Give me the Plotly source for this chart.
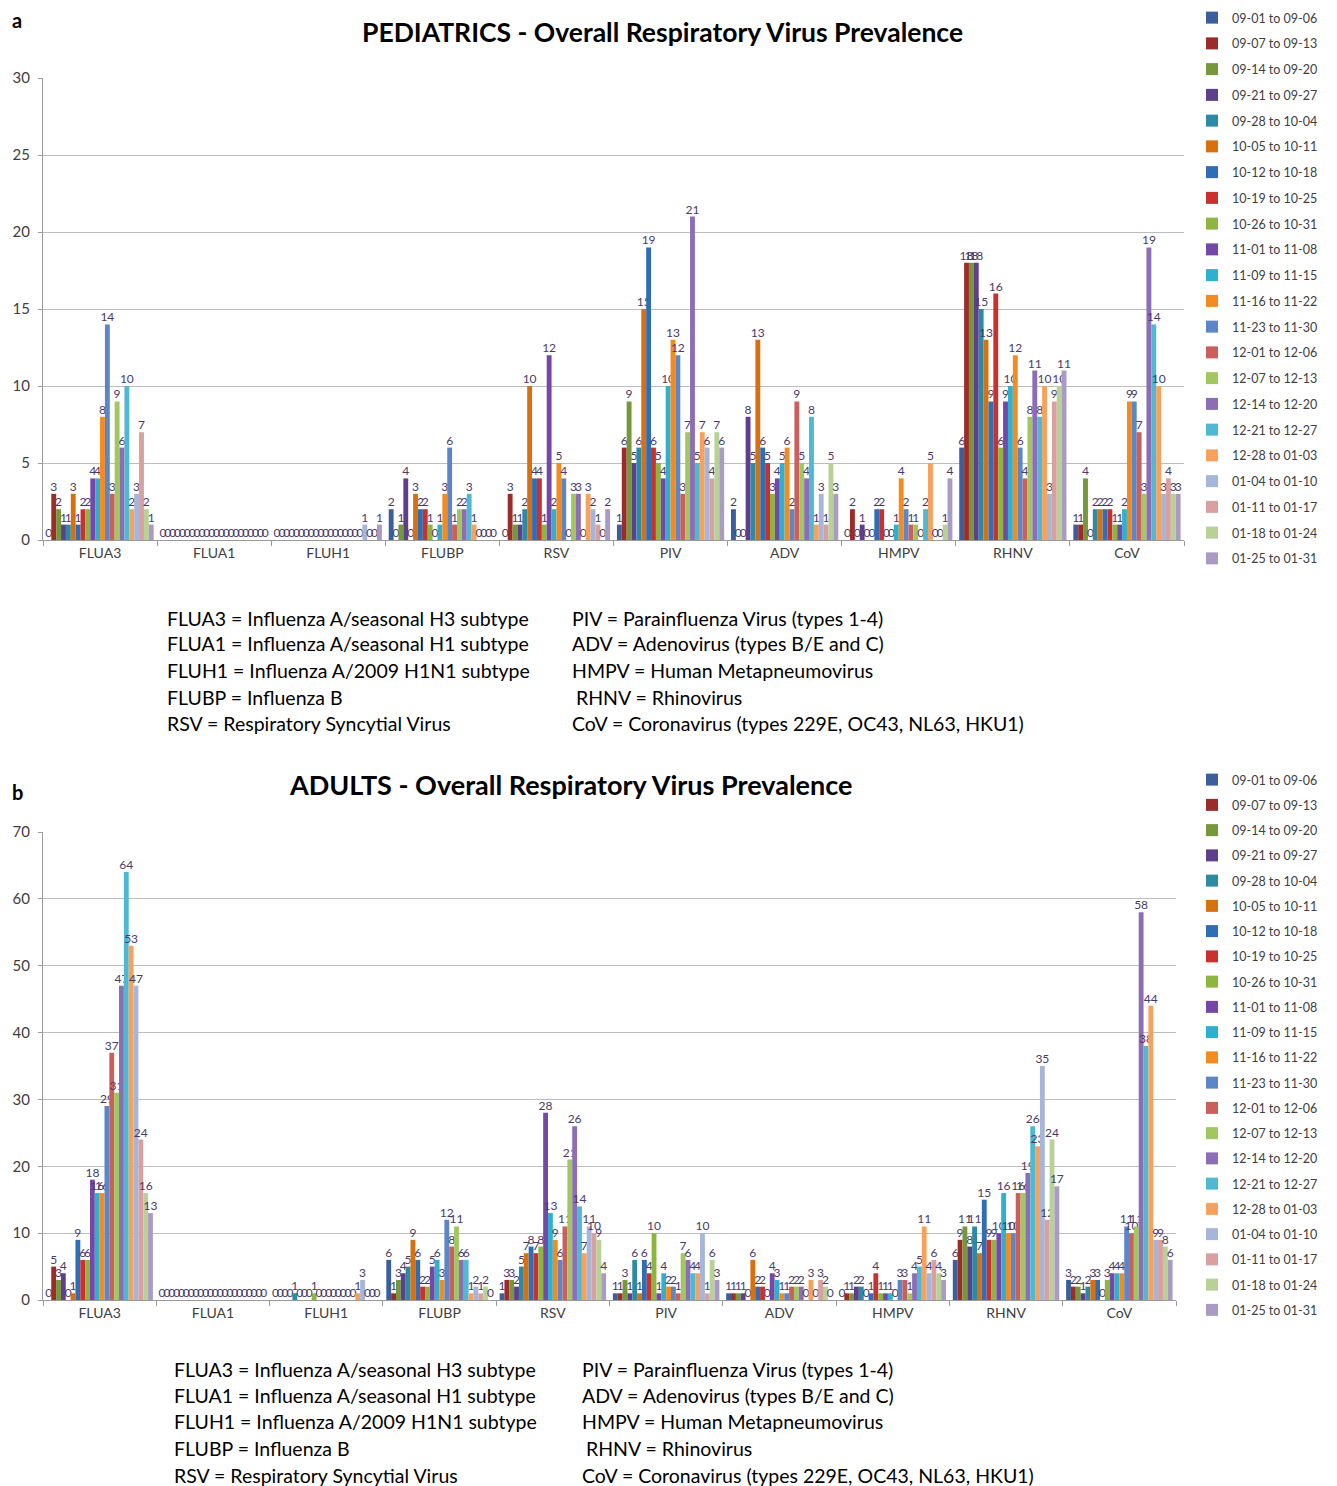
import plotly.graph_objects as go

# Figure fills the whole 1337x1486 page (body margin removed via post_script)
W, H = 1337, 1486

categories = ["FLUA3", "FLUA1", "FLUH1", "FLUBP", "RSV", "PIV", "ADV", "HMPV", "RHNV", "CoV"]

weeks = ["09-01 to 09-06", "09-07 to 09-13", "09-14 to 09-20", "09-21 to 09-27",
         "09-28 to 10-04", "10-05 to 10-11", "10-12 to 10-18", "10-19 to 10-25",
         "10-26 to 10-31", "11-01 to 11-08", "11-09 to 11-15", "11-16 to 11-22",
         "11-23 to 11-30", "12-01 to 12-06", "12-07 to 12-13", "12-14 to 12-20",
         "12-21 to 12-27", "12-28 to 01-03", "01-04 to 01-10", "01-11 to 01-17",
         "01-18 to 01-24", "01-25 to 01-31"]

colors = ["#3A5F9A", "#9B2C2A", "#76973A", "#5E3F8C", "#2C8AA5", "#D9700F",
          "#2F6DB5", "#C8312E", "#8DB640", "#7548A8", "#2FB0CF", "#F48B1F",
          "#5B87C8", "#C9605D", "#A3C760", "#8C6EB5", "#4FB8D3", "#F7A25C",
          "#A5B6DA", "#D9A0A0", "#B8D196", "#A99BC4"]

# ---- Pediatrics: values per category, one value per week (22) ----
ped_flua3 = [0, 3, 2, 1, 1, 3, 1, 2, 2, 4, 4, 8, 14, 3, 9, 6, 10, 2, 3, 7, 2, 1]
ped_flua1 = [0, 0, 0, 0, 0, 0, 0, 0, 0, 0, 0, 0, 0, 0, 0, 0, 0, 0, 0, 0, 0, 0]
ped_fluh1 = [0, 0, 0, 0, 0, 0, 0, 0, 0, 0, 0, 0, 0, 0, 0, 0, 0, 0, 1, 0, 0, 1]
ped_flubp = [2, 0, 1, 4, 0, 3, 2, 2, 1, 0, 1, 3, 6, 1, 2, 2, 3, 1, 0, 0, 0, 0]
ped_rsv = [0, 3, 1, 1, 2, 10, 4, 4, 1, 12, 2, 5, 4, 0, 3, 3, 0, 3, 2, 1, 0, 2]
ped_piv = [1, 6, 9, 5, 6, 15, 19, 6, 5, 4, 10, 13, 12, 3, 7, 21, 5, 7, 6, 4, 7, 6]
ped_adv = [2, 0, 0, 8, 5, 13, 6, 5, 3, 4, 5, 6, 2, 9, 5, 4, 8, 1, 3, 1, 5, 3]
ped_hmpv = [0, 2, 0, 1, 0, 0, 2, 2, 0, 0, 1, 4, 2, 1, 1, 0, 2, 5, 0, 0, 1, 4]
ped_rhnv = [6, 18, 18, 18, 15, 13, 9, 16, 6, 9, 10, 12, 6, 4, 8, 11, 8, 10, 3, 9, 10, 11]
ped_cov = [1, 1, 4, 0, 2, 2, 2, 2, 1, 1, 2, 9, 9, 7, 3, 19, 14, 10, 3, 4, 3, 3]

# ---- Adults ----
adu_flua3 = [0, 5, 3, 4, 0, 1, 9, 6, 6, 18, 16, 16, 29, 37, 31, 47, 64, 53, 47, 24, 16, 13]
adu_flua1 = [0, 0, 0, 0, 0, 0, 0, 0, 0, 0, 0, 0, 0, 0, 0, 0, 0, 0, 0, 0, 0, 0]
adu_fluh1 = [0, 0, 0, 0, 1, 0, 0, 0, 1, 0, 0, 0, 0, 0, 0, 0, 0, 1, 3, 0, 0, 0]
adu_flubp = [6, 1, 3, 4, 5, 9, 6, 2, 2, 5, 6, 3, 12, 8, 11, 6, 6, 1, 2, 1, 2, 0]
adu_rsv = [1, 3, 3, 2, 5, 7, 8, 7, 8, 28, 13, 9, 6, 11, 21, 26, 14, 7, 11, 10, 9, 4]
adu_piv = [1, 1, 3, 1, 6, 1, 6, 4, 10, 1, 4, 2, 2, 1, 7, 6, 4, 4, 10, 1, 6, 3]
adu_adv = [1, 1, 1, 1, 0, 6, 2, 2, 0, 4, 3, 1, 1, 2, 2, 2, 0, 3, 0, 3, 2, 0]
adu_hmpv = [0, 1, 1, 2, 2, 0, 1, 4, 1, 1, 1, 0, 3, 3, 1, 4, 5, 11, 4, 6, 4, 3]
adu_rhnv = [6, 9, 11, 8, 11, 7, 15, 9, 9, 10, 16, 10, 10, 16, 16, 19, 26, 23, 35, 12, 24, 17]
adu_cov = [3, 2, 2, 1, 2, 3, 3, 0, 3, 4, 4, 4, 11, 10, 11, 58, 38, 44, 9, 9, 8, 6]

ped_by_cat = [ped_flua3, ped_flua1, ped_fluh1, ped_flubp, ped_rsv,
              ped_piv, ped_adv, ped_hmpv, ped_rhnv, ped_cov]
adu_by_cat = [adu_flua3, adu_flua1, adu_fluh1, adu_flubp, adu_rsv,
              adu_piv, adu_adv, adu_hmpv, adu_rhnv, adu_cov]

key_left = ["FLUA3 = Influenza A/seasonal H3 subtype",
            "FLUA1 = Influenza A/seasonal H1 subtype",
            "FLUH1 = Influenza A/2009 H1N1 subtype",
            "FLUBP = Influenza B",
            "RSV = Respiratory Syncytial Virus"]
key_right = ["PIV = Parainfluenza Virus (types 1-4)",
             "ADV = Adenovirus (types B/E and C)",
             "HMPV = Human Metapneumovirus",
             "RHNV = Rhinovirus",
             "CoV = Coronavirus (types 229E, OC43, NL63, HKU1)"]

FONT = "Lato"
LABEL_COLOR = "#4A3A6A"


def px(x):
    """page x pixel -> paper fraction"""
    return x / W


def py(y):
    """page y pixel -> paper fraction"""
    return 1 - y / H


fig = go.Figure()

for panel, data, xa, ya, lg in [("a", ped_by_cat, "x", "y", "legend"),
                                ("b", adu_by_cat, "x2", "y2", "legend2")]:
    for i, wk in enumerate(weeks):
        vals = [cat_vals[i] for cat_vals in data]
        fig.add_trace(go.Bar(
            x=categories, y=vals, name=wk,
            marker=dict(color=colors[i], line=dict(width=0)),
            text=[str(v) for v in vals], textposition="outside",
            textangle=0, constraintext="none", cliponaxis=False,
            textfont=dict(family=FONT, size=12, color=LABEL_COLOR),
            xaxis=xa, yaxis=ya, legend=lg, legendgroup=f"{panel}{i}",
        ))

axis_common = dict(showgrid=False, showline=True, linecolor="#9A9A9A", linewidth=1,
                   automargin=False,
                   tickfont=dict(family=FONT, size=14, color="#404040"))
yaxis_common = dict(showgrid=True, gridcolor="#BDBDBD", gridwidth=1, zeroline=False,
                    showline=True, linecolor="#9A9A9A", ticks="outside", ticklen=4,
                    tickcolor="#9A9A9A", ticklabelstandoff=5, automargin=False,
                    tickfont=dict(family=FONT, size=15, color="#404040"))

legend_common = dict(font=dict(family=FONT, size=12.5, color="#404040"),
                     bgcolor="rgba(0,0,0,0)", itemwidth=30,
                     xanchor="left", yanchor="top", traceorder="grouped")

annotations = [
    dict(text="<b>a</b>", x=px(10), y=py(20), xanchor="left", yanchor="middle",
         font=dict(family=FONT, size=20, color="black")),
    dict(text="<b>b</b>", x=px(10), y=py(792), xanchor="left", yanchor="middle",
         font=dict(family=FONT, size=20, color="black")),
    dict(text="<b>PEDIATRICS - Overall Respiratory Virus Prevalence</b>", x=px(662), y=py(32),
         xanchor="center", yanchor="middle", font=dict(family=FONT, size=26.5, color="black")),
    dict(text="<b>ADULTS - Overall Respiratory Virus Prevalence</b>", x=px(570), y=py(784),
         xanchor="center", yanchor="middle", font=dict(family=FONT, size=27, color="black")),
]
for (lx, rx, ys) in [(165, 570, [618, 644, 670, 697, 724]),
                     (172, 580, [1369, 1395, 1421, 1448, 1475])]:
    for j in range(5):
        annotations.append(dict(text=key_left[j], x=px(lx), y=py(ys[j]), xanchor="left",
                                yanchor="middle", font=dict(family=FONT, size=19.5, color="black")))
        annotations.append(dict(text=key_right[j], x=px(rx + (4 if j == 3 else 0)), y=py(ys[j]),
                                xanchor="left", yanchor="middle",
                                font=dict(family=FONT, size=19.5, color="black")))
for a in annotations:
    a.update(xref="paper", yref="paper", showarrow=False)

fig.update_layout(
    width=W, height=H, margin=dict(l=0, r=0, t=0, b=0, autoexpand=False),
    paper_bgcolor="white", plot_bgcolor="white",
    barmode="group", bargap=0.06, bargroupgap=0,
    font=dict(family=FONT),
    xaxis=dict(domain=[px(43), px(1184)], anchor="y", type="category",
               tickson="boundaries", ticks="outside", ticklen=5, tickcolor="#9A9A9A",
               **axis_common),
    yaxis=dict(domain=[py(540), py(78)], anchor="x", range=[0, 30], dtick=5, **yaxis_common),
    xaxis2=dict(domain=[px(43), px(1176)], anchor="y2", type="category",
                tickson="boundaries", ticks="outside", ticklen=5, tickcolor="#9A9A9A",
                **axis_common),
    yaxis2=dict(domain=[py(1300), py(832)], anchor="x2", range=[0, 70], dtick=10, **yaxis_common),
    legend=dict(x=px(1192), y=py(3), tracegroupgap=6.5, **legend_common),
    legend2=dict(x=px(1192), y=py(765), tracegroupgap=6, **legend_common),
    annotations=annotations,
    showlegend=True,
)

fig.write_html("out.html", config={"displayModeBar": False},
               post_script="document.body.style.margin='0px';")
